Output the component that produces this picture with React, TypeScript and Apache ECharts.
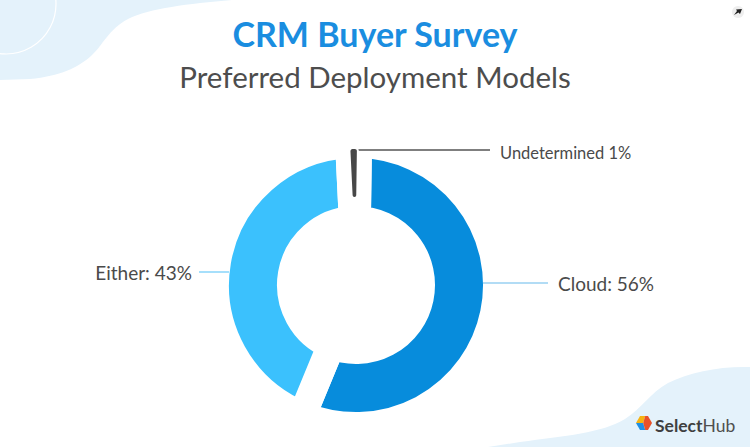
import React, { useEffect, useRef } from "react";
import * as echarts from "echarts";

// ---- data ----
const categories = ["Cloud", "Either", "Undetermined"];
const shares = [56, 43, 1];
const sliceColors = ["#078cdc", "#3bc1fd", "#474747"];
const lineColors = ["#67b9ec", "#6ccaf8", "#555555"];
const titleText = "CRM Buyer Survey";
const subtitleText = "Preferred Deployment Models";
const brandBold = "Select";
const brandLight = "Hub";

// ---- layout ----
const W = 750;
const H = 447;
const CX = 356;
const CY = 285;
const R_OUT = 127;
const R_IN = 79;
const GAP = 28;
const LIFT = 10;
const START = 89.2;

echarts.graphic.registerShape(
  "blobTL",
  echarts.graphic.extendPath(
    "M0,0 L232,0 C188,4 150,8 128,19 C108,30 103,45 92,55 C78,68 60,76 30,79 L0,80 Z",
    {}
  )
);
echarts.graphic.registerShape(
  "blobBR",
  echarts.graphic.extendPath(
    "M750,367 C720,366 690,372 668,383 C650,393 642,408 625,419 C602,433 565,436 520,442 L488,447 L750,447 Z",
    {}
  )
);

function hexParts(cx: number, cy: number, r: number) {
  const h = r * 0.87;
  return {
    yellow: [[cx - r, cy], [cx - r / 2, cy - h], [cx + 0.15 * r, cy - h], [cx - 0.1 * r, cy]],
    blue: [[cx - r, cy], [cx - 0.1 * r, cy], [cx + 0.15 * r, cy + h], [cx - r / 2, cy + h]],
    red: [[cx + 0.15 * r, cy - h], [cx + r / 2, cy - h], [cx + r, cy], [cx + r / 2, cy + h], [cx + 0.15 * r, cy + h], [cx - 0.1 * r, cy]],
  };
}

export default function App() {
  const ref = useRef<HTMLDivElement>(null);
  useEffect(() => {
    if (!ref.current) return;
    const chart = echarts.init(ref.current, undefined, { renderer: "svg" });
    const hex = hexParts(644, 423, 8);
    const font = "Lato, 'Open Sans', sans-serif";

    // ring: coloured slices, white borders make the gaps
    const ringData = categories.map((name, i) => ({
      name,
      value: shares[i],
      itemStyle: { color: i === 2 ? "rgba(0,0,0,0)" : sliceColors[i] },
    }));
    // overlay: lifted marker for the small slice, plus all labels
    const overlayData = categories.map((name, i) => ({
      name,
      value: shares[i],
      itemStyle:
        i === 2
          ? { color: sliceColors[i], borderColor: "#ffffff", borderWidth: 2, borderRadius: 3 }
          : { color: "rgba(0,0,0,0)", borderWidth: 0 },
      label: {
        show: true,
        fontSize: i === 2 ? 16.5 : 19,
        formatter: i === 2 ? "{b} {c}%" : "{b}: {c}%",
      },
      labelLine: { show: true, lineStyle: { color: lineColors[i], width: i === 2 ? 1.5 : 1.2 } },
    }));

    chart.setOption({
      animation: false,
      backgroundColor: "#ffffff",
      title: [
        {
          text: titleText,
          left: "center",
          top: 11,
          textStyle: { color: "#1a8de0", fontSize: 34, fontWeight: "bold", fontFamily: font },
        },
        {
          text: subtitleText,
          left: "center",
          top: 56,
          textStyle: { color: "#4d4d4d", fontSize: 29.5, fontWeight: "normal", fontFamily: font },
        },
      ],
      graphic: [
        { type: "blobTL", z: 0, style: { fill: "#e4f2fb" } },
        { type: "circle", z: 1, shape: { cx: 6, cy: 4, r: 50 }, style: { fill: "none", stroke: "#ffffff", lineWidth: 1.2 } },
        { type: "blobBR", z: 0, style: { fill: "#e4f2fb" } },
        { type: "circle", z: 1, shape: { cx: 738, cy: 12, r: 6 }, style: { fill: "#eeeeee" } },
        { type: "polygon", z: 2, shape: { points: [[734, 15], [737, 11], [736, 9.5], [742, 9], [740, 14], [738.5, 12.5]] }, style: { fill: "#222222" } },
        { type: "polygon", z: 2, shape: { points: hex.yellow }, style: { fill: "#f6b312" } },
        { type: "polygon", z: 2, shape: { points: hex.blue }, style: { fill: "#1e90e4" } },
        { type: "polygon", z: 2, shape: { points: hex.red }, style: { fill: "#e8522a" } },
        {
          type: "text",
          z: 2,
          x: 655,
          y: 425,
          style: {
            text: "{a|" + brandBold + "}{b|" + brandLight + "}",
            verticalAlign: "middle",
            rich: {
              a: { fontFamily: font, fontWeight: "bold", fontSize: 17.5, fill: "#3f3f3f" },
              b: { fontFamily: font, fontWeight: "normal", fontSize: 17.5, fill: "#4f4f4f" },
            },
          },
        },
      ],
      series: [
        {
          type: "pie",
          z: 2,
          center: [CX, CY],
          radius: [R_IN - GAP / 2, R_OUT + GAP / 2],
          startAngle: START,
          clockwise: true,
          silent: true,
          emphasis: { disabled: true },
          itemStyle: { borderColor: "#ffffff", borderWidth: GAP },
          label: { show: false },
          labelLine: { show: false },
          data: ringData,
        },
        {
          type: "pie",
          z: 4,
          center: [CX, CY],
          radius: [R_IN + LIFT - 2, R_OUT + LIFT],
          startAngle: START,
          clockwise: true,
          silent: true,
          emphasis: { disabled: true },
          label: { position: "outside", color: "#4a4a4a", fontFamily: font },
          labelLine: { show: true },
          labelLayout: (p: any) => {
            if (p.dataIndex === 0) {
              const y = CY - 2;
              const x0 = CX + R_OUT;
              return {
                x: 558,
                y,
                align: "left",
                verticalAlign: "middle",
                labelLinePoints: [[x0, y], [x0 + 30, y], [548, y]],
              };
            }
            if (p.dataIndex === 1) {
              const y = CY - 13;
              const x0 = CX - R_OUT;
              return {
                x: 192,
                y,
                align: "right",
                verticalAlign: "middle",
                labelLinePoints: [[x0, y], [x0 - 15, y], [199, y]],
              };
            }
            const y = CY - R_OUT - LIFT + 2;
            return {
              x: 500,
              y: y + 3,
              align: "left",
              verticalAlign: "middle",
              labelLinePoints: [[CX - 1, y], [CX + 40, y], [490, y]],
            };
          },
          data: overlayData,
        },
      ],
    });
    return () => chart.dispose();
  }, []);
  return (
    <div
      ref={ref}
      style={{ position: "absolute", left: 0, top: 0, width: W, height: H }}
    />
  );
}
